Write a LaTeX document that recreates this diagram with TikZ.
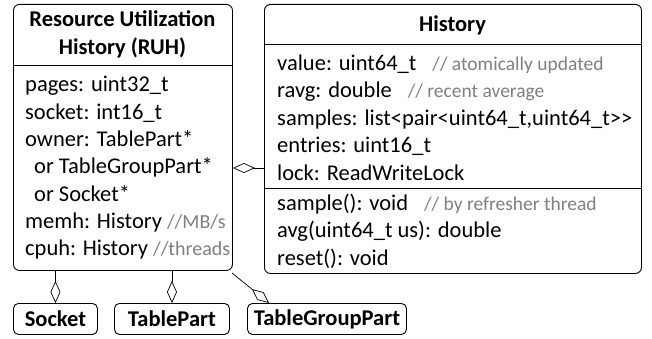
\documentclass[tikz,border=0pt]{standalone}
\usepackage{fontspec}
\setmainfont{Carlito}
\usetikzlibrary{arrows.meta}
\definecolor{cmt}{RGB}{128,128,128}
\tikzset{
  box/.style={draw, rounded corners=6pt, line width=0.9pt, inner sep=0pt},
  sbox/.style={draw, rounded corners=5pt, line width=0.9pt, inner sep=0pt, font=\fontsize{22.5}{27}\selectfont\bfseries},
  txt/.style={anchor=base west, inner sep=0pt, font=\fontsize{22.5}{27}\selectfont},
  ttl/.style={anchor=base, inner sep=0pt, font=\fontsize{22.5}{27}\selectfont\bfseries},
  sep/.style={line width=0.8pt},
  agg/.style={line width=0.7pt, -{Diamond[open, length=22pt, width=10pt, line width=0.7pt]}},
}
\newcommand{\cm}[2][22.5]{{\fontsize{#1}{27}\selectfont\color{cmt}#2}}
\begin{document}
\begin{tikzpicture}[x=1pt, y=-1pt]
\useasboundingbox (0,0) rectangle (652,339);
% RUH box
\node[box, minimum width=219pt, minimum height=266pt, anchor=north west] (ruh) at (13,4) {};
\draw[sep] (ruh.west |- 0,65) -- (ruh.east |- 0,65);
\node[ttl] (ruht1) at (122.5,27) {Resource Utilization};
\node[ttl] (ruht2) at (122.5,55) {History (RUH)};
\node[txt] (r1) at (25,92) {pages: uint32\_t};
\node[txt] (r2) at (25,119.3) {socket: int16\_t};
\node[txt] (r3) at (25,146.6) {owner: TablePart*};
\node[txt] (r4) at (25,173.9) {\hspace{9pt}or TableGroupPart*};
\node[txt] (r5) at (25,201.2) {\hspace{9pt}or Socket*};
\node[txt] (r6) at (25,228.5) {memh: History\hspace{5pt}\cm[20]{//MB/s}};
\node[txt] (r7) at (25,255.8) {cpuh: History\hspace{5pt}\cm[20]{//threads}};
% History box
\node[box, minimum width=377pt, minimum height=269pt, anchor=north west] (hist) at (264,4) {};
\draw[sep] (hist.west |- 0,44) -- (hist.east |- 0,44);
\draw[sep] (hist.west |- 0,188) -- (hist.east |- 0,188);
\node[ttl] (ht) at (452.5,32) {History};
\node[txt] (h1) at (277,70.5) {value: uint64\_t\hspace{16pt}\cm[19.5]{// atomically updated}};
\node[txt] (h2) at (277,98) {ravg: double\hspace{16pt}\cm[19.5]{// recent average}};
\node[txt] (h3) at (277,125.5) {samples: list<pair<uint64\_t,uint64\_t>{}>};
\node[txt] (h4) at (277,153) {entries: uint16\_t};
\node[txt] (h5) at (277,180.5) {lock: ReadWriteLock};
\node[txt] (h6) at (277,210) {sample(): void\hspace{16pt}\cm[19.5]{// by refresher thread}};
\node[txt] (h7) at (277,237.5) {avg(uint64\_t us): double};
\node[txt] (h8) at (277,265) {reset(): void};
% bottom classes
\node[sbox, minimum width=84pt, minimum height=31pt, anchor=north west] (sock) at (13,303) {Socket};
\node[sbox, minimum width=115pt, minimum height=31pt, anchor=north west] (tp) at (114,303) {TablePart};
\node[sbox, minimum width=159pt, minimum height=31pt, anchor=north west] (tgp) at (247,303) {TableGroupPart};
\coordinate (tgpend) at ([xshift=22pt]tgp.north west);
% connectors
\draw[agg] (hist.west |- 0,168) -- (ruh.east |- 0,168);
\draw[agg] (sock.north |- ruh.south) -- (sock.north);
\draw[agg] (tp.north |- ruh.south) -- (tp.north);
\draw[agg] ([xshift=-1pt,yshift=-2pt]ruh.south east) -- (tgpend);
\end{tikzpicture}
\end{document}
